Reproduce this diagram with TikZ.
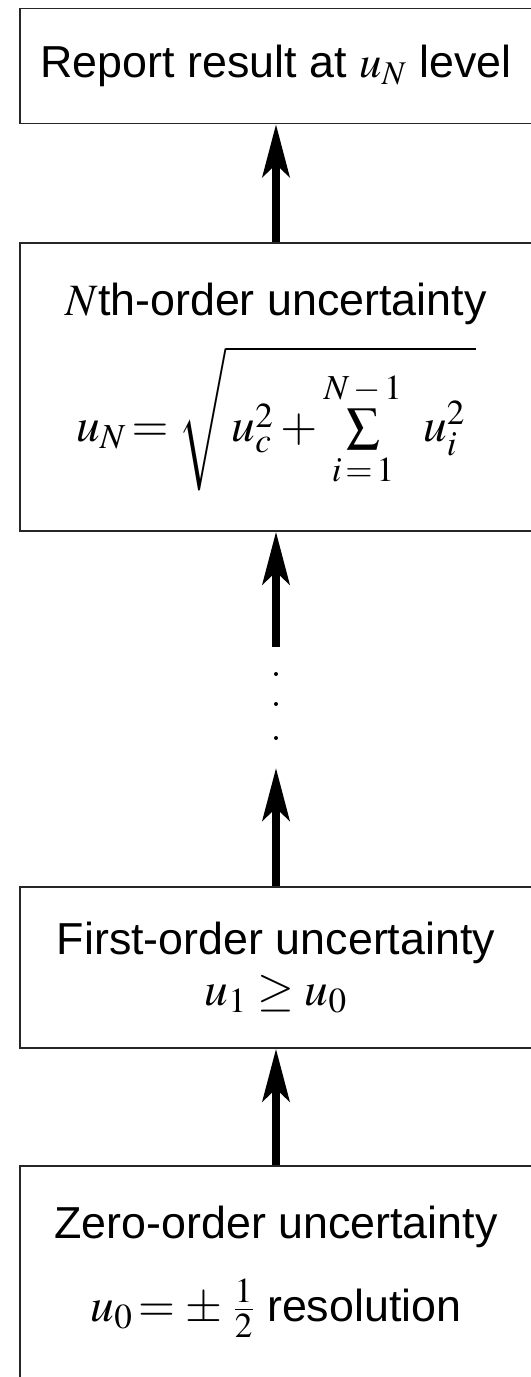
\documentclass[tikz,border=0pt]{standalone}
\usepackage{mathptmx}
\usepackage{fontspec}
\setmainfont{Liberation Sans}
\usetikzlibrary{positioning,arrows.meta}
\newcommand\bigmath{\fontsize{27}{30}\selectfont}
\tikzset{
  stagebox/.style={draw=black!85,line width=0.9pt,align=center,minimum width=10.24cm,
                   inner sep=0pt,font=\fontsize{25.5}{29}\selectfont},
  uparr/.style={-{Stealth[length=10.5mm,width=5.4mm,inset=2.5mm]},line width=1.6mm},
  gapdot/.style={circle,fill=black,inner sep=0pt,minimum size=0.8mm}
}

\begin{document}
\begin{tikzpicture}[x=0.02cm,y=-0.02cm]
\useasboundingbox (0,0) rectangle (531,1377);
\clip (0,0) rectangle (531,1377);

\node[stagebox,minimum height=2.3cm] (report) at (276,66) {Report result at $u_N$ level};
\node[stagebox,minimum height=5.76cm] (nth) at (276,387)
   {$N$th-order uncertainty\\[11pt]
    {\bigmath$u_N\!= \sqrt{\rule{0pt}{48pt}\,u_c^2 + \sum\limits_{i\,=\,1}^{N\,-\,1}\;\, u_i^2\;}$}};
\node[stagebox,minimum height=3.22cm] (first) at (276,967.5)
   {First-order uncertainty\\ {\bigmath$u_1 \geq u_0$}};
\node[stagebox,anchor=north,inner ysep=0.8cm,text depth=3cm] (zero) at (276,1165)
   {Zero-order uncertainty\\[17pt] {\bigmath$u_0\!= \pm\;\frac{1}{2}$} resolution};

% arrows between the stages
\draw[uparr] (nth.north) -- (report.south);
\coordinate (gaptop) at (276,647);
\draw[uparr] (gaptop) -- (nth.south);
\foreach \y [count=\i] in {674,704,738}
  \node[gapdot] (dot\i) at (276,\y) {};
\coordinate (gapbot) at (276,768);
\draw[uparr] (first.north) -- (gapbot);
\draw[uparr] (zero.north) -- (first.south);
\end{tikzpicture}
\end{document}
